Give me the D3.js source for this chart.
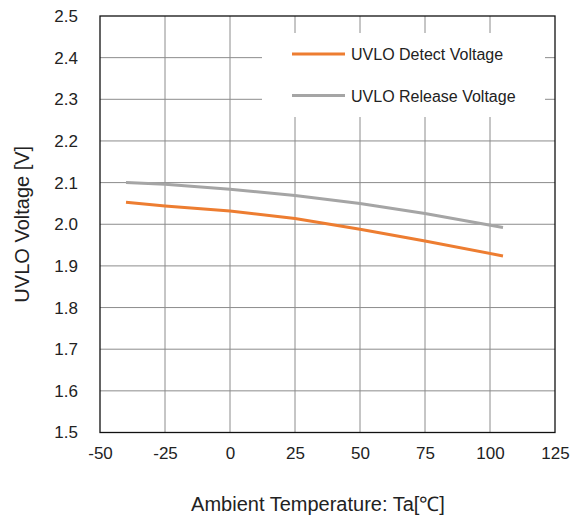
<!DOCTYPE html>
<html>
<head>
<meta charset="utf-8">
<script src="https://cdn.jsdelivr.net/npm/d3@7"></script>
<style>
  body { margin: 0; background: #fff; }
  svg text { font-family: "Liberation Sans", Arial, sans-serif; fill: #222; }
</style>
</head>
<body>
<svg id="chart" width="578" height="520"></svg>
<script>
// values
const temps = [-40, -25, 0, 25, 50, 75, 105];
const detectVoltage = [2.053, 2.044, 2.032, 2.014, 1.988, 1.960, 1.924];
const releaseVoltage = [2.100, 2.096, 2.084, 2.069, 2.050, 2.026, 1.992];
const xTicks = [-50, -25, 0, 25, 50, 75, 100, 125];
const yTicks = [1.5, 1.6, 1.7, 1.8, 1.9, 2.0, 2.1, 2.2, 2.3, 2.4, 2.5];
const seriesNames = ['UVLO Detect Voltage', 'UVLO Release Voltage'];
const seriesColors = ['#ED7D31', '#A5A5A5'];

const svg = d3.select('#chart');
const plotL = 100, plotR = 555, plotT = 16, plotB = 432.5;

const x = d3.scaleLinear().domain([-50, 125]).range([plotL, plotR]);
const y = d3.scaleLinear().domain([1.5, 2.5]).range([plotB, plotT]);

// grid
const grid = svg.append('g');
grid.selectAll('.vg').data(xTicks.slice(1, -1)).enter().append('line')
    .attr('x1', d => x(d)).attr('x2', d => x(d))
    .attr('y1', plotT).attr('y2', plotB)
    .attr('stroke', '#8c8c8c').attr('stroke-width', 1);
grid.selectAll('.hg').data(yTicks.slice(1, -1)).enter().append('line')
    .attr('x1', plotL).attr('x2', plotR)
    .attr('y1', d => y(d)).attr('y2', d => y(d))
    .attr('stroke', '#8c8c8c').attr('stroke-width', 1);

// legend background hides the grid behind it
svg.append('rect').attr('x', 262).attr('y', 33).attr('width', 283).attr('height', 84).attr('fill', '#fff');

// series
const line = d3.line().x(d => x(d[0])).y(d => y(d[1]));
[detectVoltage, releaseVoltage].forEach((vals, i) => {
    const pts = temps.map((t, j) => [t, vals[j]]);
    svg.append('path').datum(pts).attr('d', line)
        .attr('fill', 'none').attr('stroke', seriesColors[i]).attr('stroke-width', 3);
});

// plot border
svg.append('rect').attr('x', plotL).attr('y', plotT).attr('width', plotR - plotL).attr('height', plotB - plotT)
    .attr('fill', 'none').attr('stroke', '#111').attr('stroke-width', 1.3);

// tick labels (plain hyphen for negatives, like the original)
const xAxis = d3.axisBottom(x).tickValues(xTicks).tickSize(0).tickPadding(14).tickFormat(d => String(d));
const gx = svg.append('g').attr('transform', `translate(0,${plotB})`).call(xAxis);
const yAxis = d3.axisLeft(y).tickValues(yTicks).tickSize(0).tickPadding(22).tickFormat(d3.format('.1f'));
const gy = svg.append('g').attr('transform', `translate(${plotL},0)`).call(yAxis);
[gx, gy].forEach(g => {
    g.select('.domain').remove();
    g.selectAll('text').attr('font-size', 17).attr('font-family', '"Liberation Sans", Arial, sans-serif').attr('fill', '#222');
});

// axis titles
svg.append('text').attr('x', 318).attr('y', 511)
    .attr('text-anchor', 'middle').attr('font-size', 20)
    .text('Ambient Temperature: Ta[℃]');
svg.append('text').attr('transform', `translate(29,${(plotT + plotB) / 2}) rotate(-90)`)
    .attr('text-anchor', 'middle').attr('font-size', 20)
    .text('UVLO Voltage [V]');

// legend
const legend = svg.append('g');
seriesNames.forEach((name, i) => {
    const ly = 54 + i * 41.5;
    legend.append('line').attr('x1', 292).attr('x2', 345).attr('y1', ly).attr('y2', ly)
        .attr('stroke', seriesColors[i]).attr('stroke-width', 3);
    legend.append('text').attr('x', 351).attr('y', ly + 6).attr('font-size', 16).text(name);
});
</script>
</body>
</html>
